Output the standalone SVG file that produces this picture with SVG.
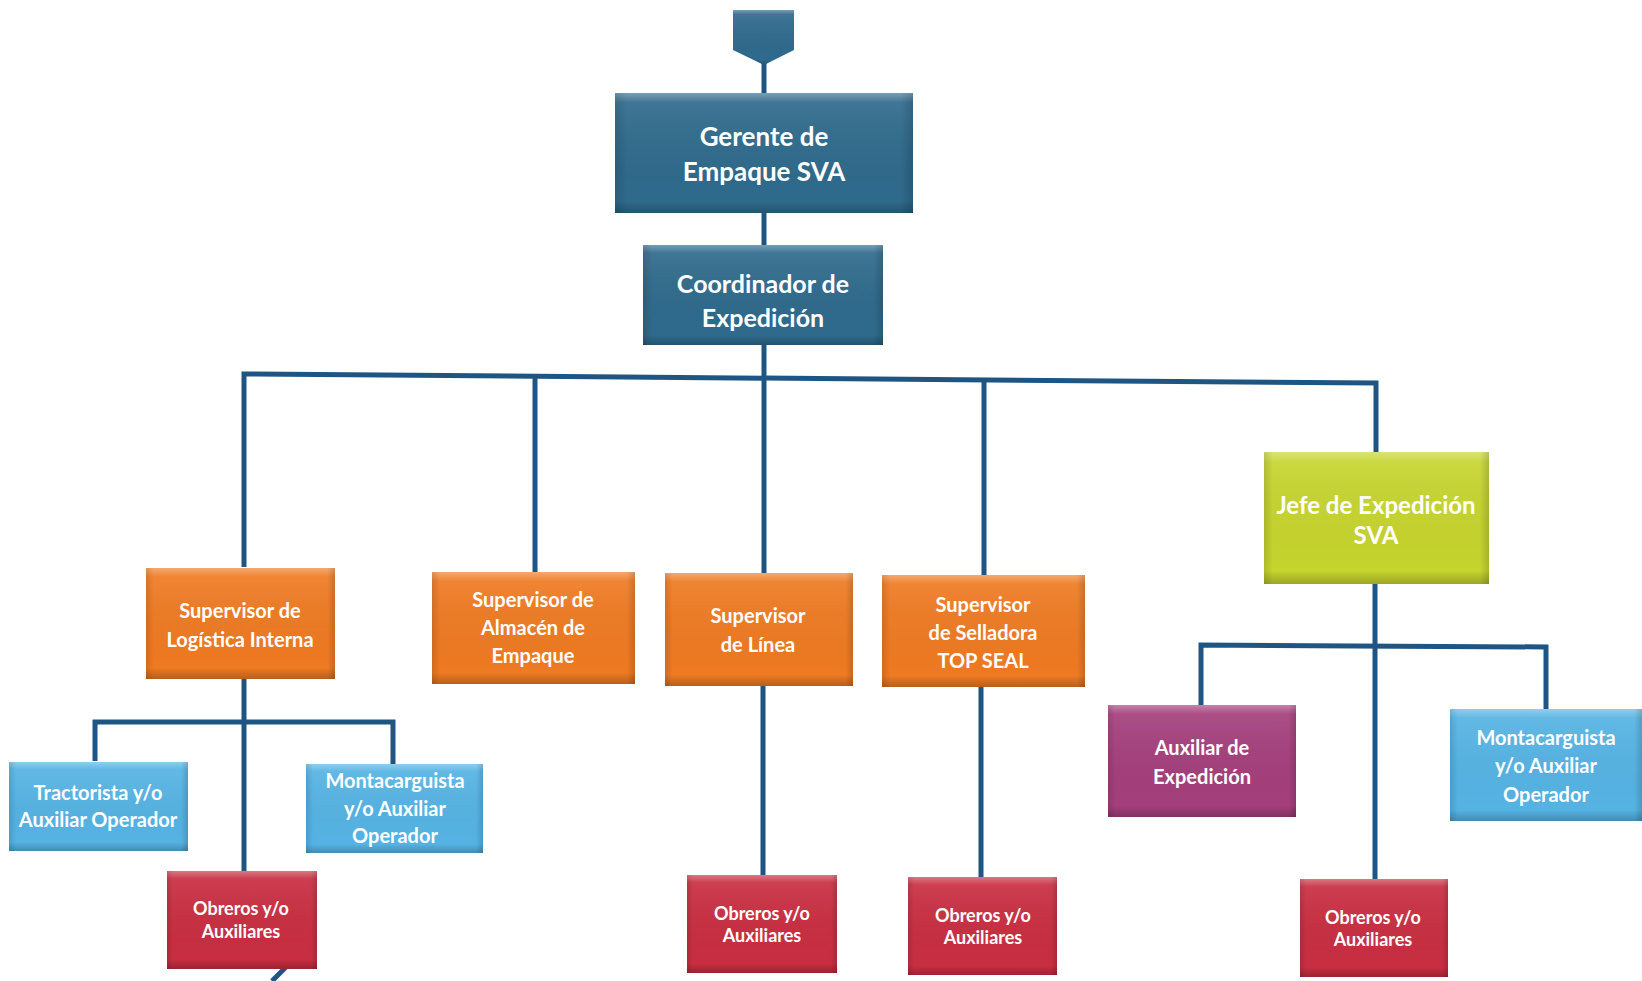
<svg xmlns="http://www.w3.org/2000/svg" width="1642" height="981" viewBox="0 0 1642 981">
<defs>
<linearGradient id="bev" x1="0" y1="0" x2="0" y2="1">
<stop offset="0" stop-color="#fff" stop-opacity="0.35"/>
<stop offset="0.08" stop-color="#fff" stop-opacity="0.08"/>
<stop offset="0.9" stop-color="#000" stop-opacity="0"/>
<stop offset="1" stop-color="#000" stop-opacity="0.22"/>
</linearGradient>
<linearGradient id="bevx" x1="0" y1="0" x2="1" y2="0">
<stop offset="0" stop-color="#000" stop-opacity="0.12"/>
<stop offset="0.04" stop-color="#000" stop-opacity="0"/>
<stop offset="0.96" stop-color="#000" stop-opacity="0"/>
<stop offset="1" stop-color="#000" stop-opacity="0.15"/>
</linearGradient>
</defs>
<style>
.blue{fill:#2F6A8C}
.org{fill:#EE7A22}
.lime{fill:#C6D42E}
.sky{fill:#55B3E3}
.mag{fill:#A43F7C}
.red{fill:#C82E41}
.ov{fill:url(#bev)}
.ovx{fill:url(#bevx)}
text{font-family:Lato,"Open Sans","Liberation Sans",sans-serif;font-weight:bold;fill:#fff;text-anchor:middle}
.t26{font-size:26px}
.t25{font-size:25px}
.t24{font-size:24px}
.t20{font-size:20px}
.t18{font-size:18px}
.conn line,.conn polyline{stroke:#1F5582;stroke-width:5;fill:none}
</style>
<rect width="1642" height="981" fill="#fff"/>
<g class="conn">
<line x1="764" y1="62" x2="764" y2="94"/>
<line x1="764" y1="212" x2="764" y2="246"/>
<line x1="764" y1="344" x2="764" y2="574"/>
<polyline points="244,567 244,374 1376,383 1376,453" stroke-width="6"/>
<line x1="535" y1="376" x2="535" y2="572"/>
<line x1="984" y1="380" x2="984" y2="575"/>
<line x1="244" y1="678" x2="244" y2="871"/>
<polyline points="95,761 95,722 393,722 393,765"/>
<line x1="763" y1="685" x2="763" y2="876"/>
<line x1="981" y1="686" x2="981" y2="878"/>
<line x1="1375" y1="583" x2="1375" y2="881"/>
<polyline points="1201,706 1201,645 1546,647 1546,710"/>
<line x1="289" y1="964" x2="272" y2="981" stroke-width="3"/>
</g>
<g id="top">
<polygon points="733,10 794,10 794,50 764,65 733,50" class="blue"/>
<polygon points="733,10 794,10 794,50 764,65 733,50" class="ov"/>
</g>
<g id="gerente">
<rect x="615" y="93" width="298" height="120" class="blue"/>
<rect x="615" y="93" width="298" height="120" class="ov"/>
<rect x="615" y="93" width="298" height="120" class="ovx"/>
<text class="t26" x="764" y="146">Gerente de</text>
<text class="t26" x="764" y="181">Empaque SVA</text>
</g>
<g id="coordinador">
<rect x="643" y="245" width="240" height="100" class="blue"/>
<rect x="643" y="245" width="240" height="100" class="ov"/>
<rect x="643" y="245" width="240" height="100" class="ovx"/>
<text class="t25" x="763" y="293">Coordinador de</text>
<text class="t25" x="763" y="327">Expedición</text>
</g>
<g id="sup-logistica">
<rect x="146" y="568" width="189" height="111" class="org"/>
<rect x="146" y="568" width="189" height="111" class="ov"/>
<rect x="146" y="568" width="189" height="111" class="ovx"/>
<text class="t20" x="240" y="618">Supervisor de</text>
<text class="t20" x="240" y="647">Logística Interna</text>
</g>
<g id="sup-almacen">
<rect x="432" y="572" width="203" height="112" class="org"/>
<rect x="432" y="572" width="203" height="112" class="ov"/>
<rect x="432" y="572" width="203" height="112" class="ovx"/>
<text class="t20" x="533" y="607">Supervisor de</text>
<text class="t20" x="533" y="635">Almacén de</text>
<text class="t20" x="533" y="663">Empaque</text>
</g>
<g id="sup-linea">
<rect x="665" y="573" width="188" height="113" class="org"/>
<rect x="665" y="573" width="188" height="113" class="ov"/>
<rect x="665" y="573" width="188" height="113" class="ovx"/>
<text class="t20" x="758" y="623">Supervisor</text>
<text class="t20" x="758" y="652">de Línea</text>
</g>
<g id="sup-selladora">
<rect x="882" y="575" width="203" height="112" class="org"/>
<rect x="882" y="575" width="203" height="112" class="ov"/>
<rect x="882" y="575" width="203" height="112" class="ovx"/>
<text class="t20" x="983" y="612">Supervisor</text>
<text class="t20" x="983" y="640">de Selladora</text>
<text class="t20" x="983" y="668">TOP SEAL</text>
</g>
<g id="jefe">
<rect x="1264" y="452" width="225" height="132" class="lime"/>
<rect x="1264" y="452" width="225" height="132" class="ov"/>
<rect x="1264" y="452" width="225" height="132" class="ovx"/>
<text class="t24" x="1376" y="514">Jefe de Expedición</text>
<text class="t24" x="1376" y="544">SVA</text>
</g>
<g id="tractorista">
<rect x="9" y="762" width="179" height="89" class="sky"/>
<rect x="9" y="762" width="179" height="89" class="ov"/>
<rect x="9" y="762" width="179" height="89" class="ovx"/>
<text class="t20" x="98" y="800">Tractorista y/o</text>
<text class="t20" x="98" y="827">Auxiliar Operador</text>
</g>
<g id="montacarguista-1">
<rect x="306" y="764" width="177" height="89" class="sky"/>
<rect x="306" y="764" width="177" height="89" class="ov"/>
<rect x="306" y="764" width="177" height="89" class="ovx"/>
<text class="t20" x="395" y="788">Montacarguista</text>
<text class="t20" x="395" y="816">y/o Auxiliar</text>
<text class="t20" x="395" y="843">Operador</text>
</g>
<g id="obreros-1">
<rect x="167" y="871" width="150" height="98" class="red"/>
<rect x="167" y="871" width="150" height="98" class="ov"/>
<rect x="167" y="871" width="150" height="98" class="ovx"/>
<text class="t18" x="241" y="915">Obreros y/o</text>
<text class="t18" x="241" y="938">Auxiliares</text>
</g>
<g id="obreros-2">
<rect x="687" y="875" width="150" height="98" class="red"/>
<rect x="687" y="875" width="150" height="98" class="ov"/>
<rect x="687" y="875" width="150" height="98" class="ovx"/>
<text class="t18" x="762" y="920">Obreros y/o</text>
<text class="t18" x="762" y="942">Auxiliares</text>
</g>
<g id="obreros-3">
<rect x="908" y="877" width="149" height="98" class="red"/>
<rect x="908" y="877" width="149" height="98" class="ov"/>
<rect x="908" y="877" width="149" height="98" class="ovx"/>
<text class="t18" x="983" y="922">Obreros y/o</text>
<text class="t18" x="983" y="944">Auxiliares</text>
</g>
<g id="auxiliar-expedicion">
<rect x="1108" y="705" width="188" height="112" class="mag"/>
<rect x="1108" y="705" width="188" height="112" class="ov"/>
<rect x="1108" y="705" width="188" height="112" class="ovx"/>
<text class="t20" x="1202" y="755">Auxiliar de</text>
<text class="t20" x="1202" y="784">Expedición</text>
</g>
<g id="montacarguista-2">
<rect x="1450" y="709" width="192" height="112" class="sky"/>
<rect x="1450" y="709" width="192" height="112" class="ov"/>
<rect x="1450" y="709" width="192" height="112" class="ovx"/>
<text class="t20" x="1546" y="745">Montacarguista</text>
<text class="t20" x="1546" y="773">y/o Auxiliar</text>
<text class="t20" x="1546" y="802">Operador</text>
</g>
<g id="obreros-4">
<rect x="1300" y="879" width="148" height="98" class="red"/>
<rect x="1300" y="879" width="148" height="98" class="ov"/>
<rect x="1300" y="879" width="148" height="98" class="ovx"/>
<text class="t18" x="1373" y="924">Obreros y/o</text>
<text class="t18" x="1373" y="946">Auxiliares</text>
</g>
</svg>
